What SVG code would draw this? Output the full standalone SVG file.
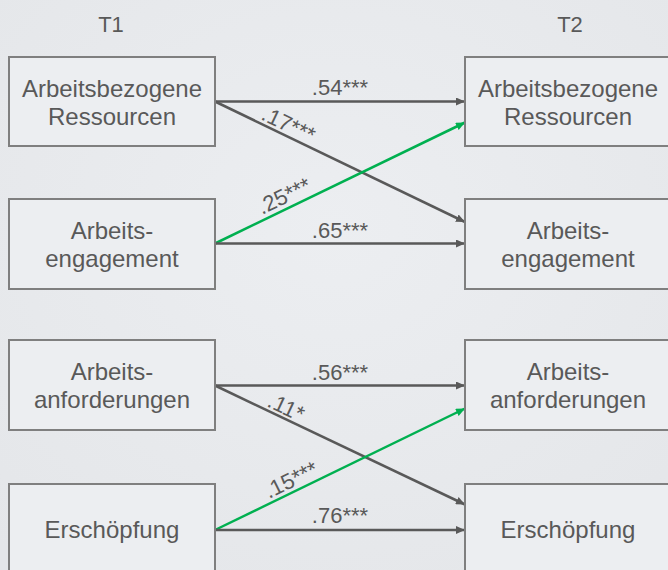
<svg xmlns="http://www.w3.org/2000/svg" width="668" height="570" viewBox="0 0 668 570">
<defs>
<style>
.box{fill:#eceef1;stroke:#7f7f7f;stroke-width:2}
.t{font-family:"Liberation Sans",Arial,sans-serif;font-size:24px;fill:#595959;text-anchor:middle}
.h{font-family:"Liberation Sans",Arial,sans-serif;font-size:22px;fill:#595959;text-anchor:middle}
.l{font-family:"Liberation Sans",Arial,sans-serif;font-size:22px;fill:#595959}
.g{stroke:#595959;stroke-width:2.5;fill:none;marker-end:url(#ag)}
.gr{stroke:#00b050;stroke-width:2.5;fill:none;marker-end:url(#agr)}
</style>
<marker id="ag" markerUnits="userSpaceOnUse" markerWidth="10" markerHeight="8" refX="9" refY="4" orient="auto"><path d="M0,0 L9,4 L0,8 z" fill="#595959"/></marker>
<marker id="agr" markerUnits="userSpaceOnUse" markerWidth="10" markerHeight="8" refX="9" refY="4" orient="auto"><path d="M0,0 L9,4 L0,8 z" fill="#00b050"/></marker>
<radialGradient id="bg" cx="50%" cy="40%" r="75%"><stop offset="0" stop-color="#eceef1"/><stop offset="1" stop-color="#e4e6e9"/></radialGradient>
</defs>
<rect width="668" height="570" fill="url(#bg)"/>
<text class="h" x="111" y="32">T1</text>
<text class="h" x="570" y="32">T2</text>
<g id="connectors">
<line class="g" x1="215" y1="101.5" x2="465" y2="101.5"/>
<line class="g" x1="215" y1="101.5" x2="465" y2="222"/>
<line class="gr" x1="215" y1="243.5" x2="465" y2="122.5"/>
<line class="g" x1="215" y1="243.5" x2="465" y2="243.5"/>
<line class="g" x1="215" y1="385.5" x2="465" y2="385.5"/>
<line class="g" x1="215" y1="385.5" x2="465" y2="504.5"/>
<line class="gr" x1="215" y1="530" x2="465" y2="408.5"/>
<line class="g" x1="215" y1="530" x2="465" y2="530"/>
<text class="h" x="340" y="95">.54***</text>
<text class="h" x="340" y="238">.65***</text>
<text class="h" x="340" y="380">.56***</text>
<text class="h" x="340" y="523">.76***</text>
<text class="l" x="260" y="119" transform="rotate(25.6 260 119)">.17***</text>
<text class="l" x="262" y="215" transform="rotate(-25.8 262 215)">.25***</text>
<text class="l" x="266" y="406" transform="rotate(25.4 266 406)">.11*</text>
<text class="l" x="269" y="499" transform="rotate(-26 269 499)">.15***</text>
</g>
<g id="l1"><rect class="box" x="9" y="57" width="206" height="89"/><text class="t" x="112" y="97">Arbeitsbezogene</text><text class="t" x="112" y="125">Ressourcen</text></g>
<g id="l2"><rect class="box" x="9" y="199" width="206" height="90"/><text class="t" x="112" y="239">Arbeits-</text><text class="t" x="112" y="267">engagement</text></g>
<g id="l3"><rect class="box" x="9" y="340" width="206" height="90"/><text class="t" x="112" y="380">Arbeits-</text><text class="t" x="112" y="408">anforderungen</text></g>
<g id="l4"><rect class="box" x="9" y="484" width="206" height="92"/><text class="t" x="112" y="538">Erschöpfung</text></g>
<g id="r1"><rect class="box" x="465" y="57" width="206" height="89"/><text class="t" x="568" y="97">Arbeitsbezogene</text><text class="t" x="568" y="125">Ressourcen</text></g>
<g id="r2"><rect class="box" x="465" y="199" width="206" height="90"/><text class="t" x="568" y="239">Arbeits-</text><text class="t" x="568" y="267">engagement</text></g>
<g id="r3"><rect class="box" x="465" y="340" width="206" height="90"/><text class="t" x="568" y="380">Arbeits-</text><text class="t" x="568" y="408">anforderungen</text></g>
<g id="r4"><rect class="box" x="465" y="484" width="206" height="92"/><text class="t" x="568" y="538">Erschöpfung</text></g>
</svg>
